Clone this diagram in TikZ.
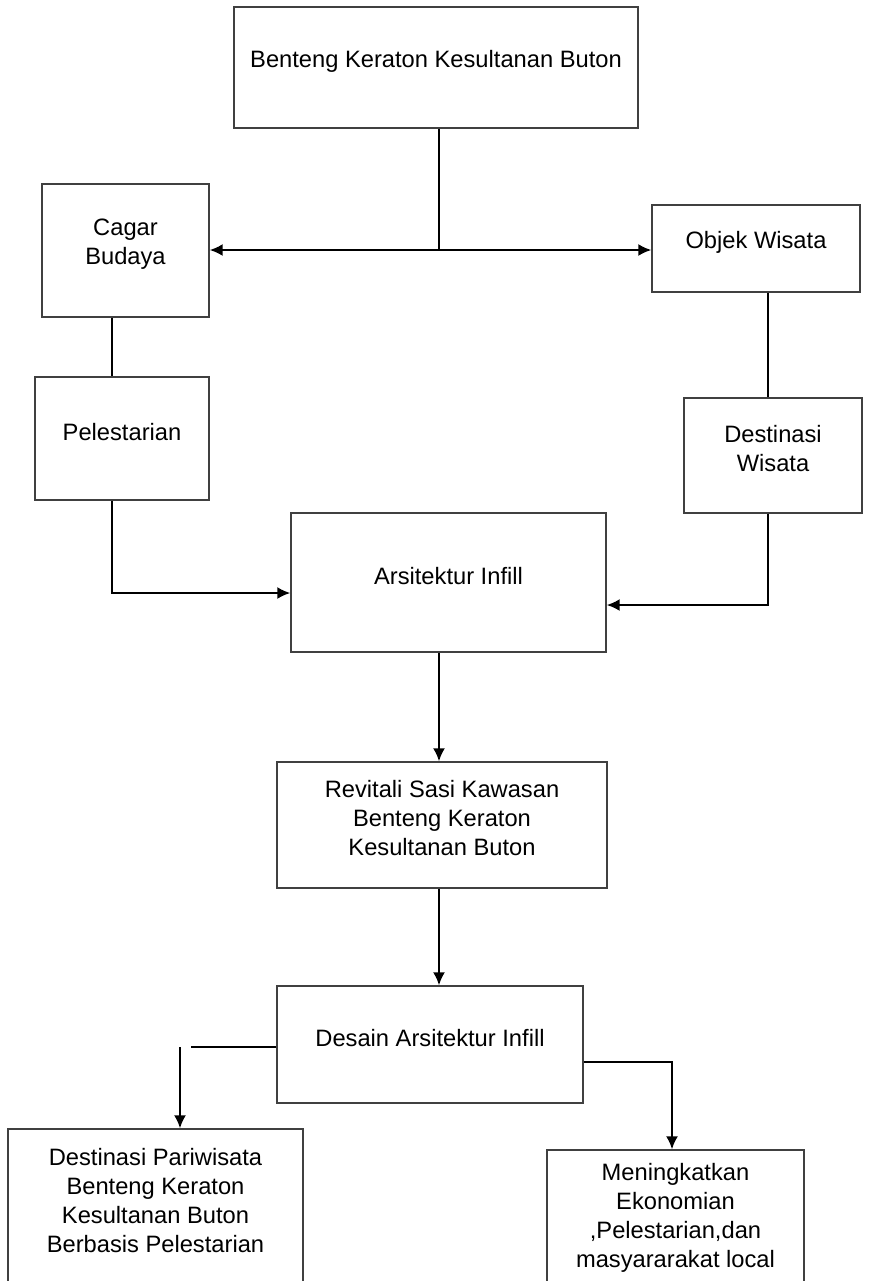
\documentclass[tikz,border=0pt]{standalone}
\usepackage{fontspec}
\setmainfont{Liberation Sans}
\usetikzlibrary{arrows.meta}
\tikzset{
  kotak/.style={rectangle, draw=black!75, line width=0.7pt, inner sep=0pt},
  teks/.style={align=center, inner sep=0pt, font=\fontsize{11.85}{14.5}\selectfont, yshift=#1},
  teks/.default=3.25pt,
  garis/.style={draw, line width=1pt},
  panah/.style={garis, -{Latex[length=6.5pt,width=6pt]}},
}

\begin{document}
\begin{tikzpicture}[x=0.5pt,y=-0.5pt]
  \clip (0,0) rectangle (874,1281);
  \fill[white] (0,0) rectangle (874,1281);

  % kotak-kotak
  \node[kotak, minimum width=202pt, minimum height=60.5pt, label={[teks]center:{Benteng Keraton Kesultanan Buton}}] (benteng) at (436,67.5) {};
  \node[kotak, minimum width=83.5pt, minimum height=66.5pt, label={[teks]center:{Cagar\\Budaya}}] (cagar) at (125.5,250.5) {};
  \node[kotak, minimum width=104pt, minimum height=43.5pt, label={[teks]center:{Objek Wisata}}] (objek) at (756,248.5) {};
  \node[kotak, minimum width=87pt, minimum height=61.5pt, label={[teks]center:{Pelestarian}}] (pelestarian) at (122,438.5) {};
  \node[kotak, minimum width=89pt, minimum height=57.5pt, label={[teks]center:{Destinasi\\Wisata}}] (destinasi) at (773,455.5) {};
  \node[kotak, minimum width=157.5pt, minimum height=69.5pt, label={[teks]center:{Arsitektur Infill}}] (arsitektur) at (448.5,582.5) {};
  \node[kotak, minimum width=165pt, minimum height=63pt, label={[teks]center:{Revitali Sasi Kawasan\\Benteng Keraton\\Kesultanan Buton}}] (revitali) at (442,825) {};
  \node[kotak, minimum width=153pt, minimum height=58.5pt, label={[teks]center:{Desain Arsitektur Infill}}] (desain) at (430,1044.5) {};
  \node[kotak, minimum width=147.5pt, minimum height=100pt, label={[teks=14.25pt]center:{Destinasi Pariwisata\\Benteng Keraton\\Kesultanan Buton\\Berbasis Pelestarian}}] (pariwisata) at (155.5,1229) {};
  \node[kotak, minimum width=128.5pt, minimum height=100pt, label={[teks=16.25pt]center:{Meningkatkan\\Ekonomian\\,Pelestarian,dan\\masyararakat local}}] (ekonomi) at (675.5,1250) {};

  % titik bantu
  \coordinate (cabang) at (439,250);
  \coordinate (kiri) at (191,1047);

  % garis penghubung
  \draw[garis] (benteng.south -| cabang) -- (cabang);
  \draw[panah] (cabang) -- (cabang -| cagar.east);
  \draw[panah] (cabang) -- (cabang -| objek.west);
  \draw[garis] ([xshift=-6.75pt]cagar.south) -- ([xshift=-6.75pt]cagar.south |- pelestarian.north);
  \draw[garis] ([xshift=6pt]objek.south) -- ([xshift=6pt]objek.south |- destinasi.north);
  \draw[panah] ([xshift=-5pt]pelestarian.south) |- ([yshift=-5.25pt]arsitektur.west);
  \draw[panah] ([xshift=-2.5pt]destinasi.south) |- ([yshift=-11.25pt]arsitektur.east);
  \draw[panah] ([xshift=-4.75pt]arsitektur.south) -- ([xshift=-4.75pt]arsitektur.south |- revitali.north);
  \draw[panah] ([xshift=-1.5pt]revitali.south) -- ([xshift=-1.5pt]revitali.south |- desain.north);
  \draw[garis] ([yshift=-1.25pt]desain.west) -- (kiri);
  \draw[panah] ([xshift=12.25pt]pariwisata.north |- kiri) -- ([xshift=12.25pt]pariwisata.north);
  \draw[panah] ([yshift=-8.75pt]desain.east) -| ([xshift=-1.75pt]ekonomi.north);
\end{tikzpicture}
\end{document}
